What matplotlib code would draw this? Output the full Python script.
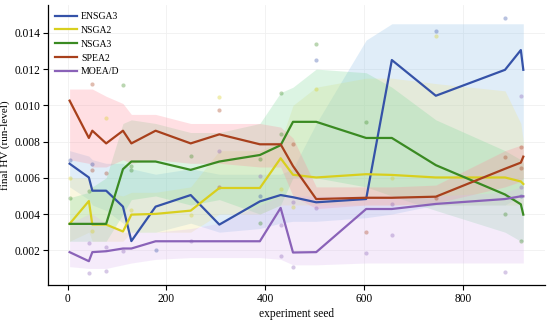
import numpy as np
import matplotlib
matplotlib.use("Agg")
import matplotlib.pyplot as plt

plt.rcParams['font.family'] = ['Liberation Serif', 'DejaVu Serif']

# experiment seeds (x positions shared by every algorithm)
seeds = [4, 43, 50, 78, 112, 129, 178, 249, 307, 389, 431, 456, 503, 604, 656, 745, 885, 917, 922]

# central line per algorithm
ensga3 = [0.00678, 0.00602, 0.00529, 0.00529, 0.00441, 0.00251, 0.00441, 0.00505, 0.00342, 0.00470,
          0.00505, 0.00493, 0.00465, 0.00483, 0.01250, 0.01053, 0.01196, 0.01305, 0.01196]
nsga2 = [0.00346, 0.00472, 0.00342, 0.00342, 0.00304, 0.00397, 0.00401, 0.00419, 0.00544, 0.00544,
         0.00708, 0.00617, 0.00602, 0.00620, 0.00616, 0.00602, 0.00602, 0.00580, 0.00566]
nsga3 = [0.00346, 0.00346, 0.00346, 0.00346, 0.00648, 0.00690, 0.00690, 0.00644, 0.00690, 0.00726,
         0.00780, 0.00909, 0.00909, 0.00820, 0.00820, 0.00670, 0.00508, 0.00454, 0.00397]
spea2 = [0.01026, 0.00820, 0.00860, 0.00790, 0.00860, 0.00790, 0.00860, 0.00790, 0.00840, 0.00785,
         0.00785, 0.00665, 0.00483, 0.00490, 0.00490, 0.00496, 0.00650, 0.00684, 0.00717]
moead = [0.00190, 0.00140, 0.00190, 0.00195, 0.00210, 0.00210, 0.00250, 0.00250, 0.00250, 0.00250,
         0.00434, 0.00188, 0.00190, 0.00428, 0.00428, 0.00456, 0.00483, 0.00498, 0.00498]

# shaded band (lower / upper) per algorithm
ensga3_lo = [0.0055, 0.0048, 0.0045, 0.0042, 0.0035, 0.0030, 0.0030, 0.0035, 0.0030, 0.0032,
             0.0035, 0.0036, 0.0036, 0.0038, 0.0040, 0.0045, 0.0045, 0.0050, 0.0050]
ensga3_hi = [0.0075, 0.0072, 0.0070, 0.0068, 0.0068, 0.0065, 0.0062, 0.0065, 0.0062, 0.0062,
             0.0062, 0.0065, 0.0090, 0.0136, 0.0145, 0.0145, 0.0145, 0.0145, 0.0145]
nsga2_lo = [0.0025, 0.0030, 0.0025, 0.0025, 0.0025, 0.0030, 0.0030, 0.0030, 0.0040, 0.0040,
            0.0045, 0.0045, 0.0045, 0.0045, 0.0045, 0.0045, 0.0045, 0.0045, 0.0045]
nsga2_hi = [0.0060, 0.0060, 0.0055, 0.0052, 0.0050, 0.0052, 0.0052, 0.0055, 0.0075, 0.0075,
            0.0080, 0.0100, 0.0110, 0.0115, 0.0115, 0.0112, 0.0108, 0.0090, 0.0080]
nsga3_lo = [0.0025, 0.0025, 0.0025, 0.0025, 0.0040, 0.0048, 0.0050, 0.0045, 0.0048, 0.0040,
            0.0045, 0.0060, 0.0060, 0.0055, 0.0050, 0.0042, 0.0030, 0.0025, 0.0025]
nsga3_hi = [0.0049, 0.0052, 0.0055, 0.0060, 0.0090, 0.0092, 0.0090, 0.0085, 0.0085, 0.0090,
            0.0107, 0.0110, 0.0120, 0.0118, 0.0110, 0.0092, 0.0075, 0.0070, 0.0068]
spea2_lo = [0.0070, 0.0068, 0.0066, 0.0066, 0.0070, 0.0068, 0.0070, 0.0068, 0.0068, 0.0066,
            0.0066, 0.0050, 0.0043, 0.0045, 0.0045, 0.0046, 0.0055, 0.0058, 0.0060]
spea2_hi = [0.0109, 0.0109, 0.0109, 0.0105, 0.0101, 0.0095, 0.0095, 0.0090, 0.0090, 0.0090,
            0.0088, 0.0082, 0.0055, 0.0055, 0.0055, 0.0056, 0.0075, 0.0078, 0.0078]
moead_lo = [0.0011, 0.0010, 0.0010, 0.0010, 0.0012, 0.0013, 0.0015, 0.0016, 0.0016, 0.0016,
            0.0015, 0.0012, 0.0012, 0.0013, 0.0013, 0.0013, 0.0013, 0.0013, 0.0013]
moead_hi = [0.0035, 0.0040, 0.0040, 0.0035, 0.0030, 0.0030, 0.0030, 0.0032, 0.0035, 0.0045,
            0.0050, 0.0050, 0.0050, 0.0050, 0.0050, 0.0050, 0.0052, 0.0055, 0.0055]

# individual run dots (seed, value)
ensga3_dots = [(4, 0.0070), (50, 0.00675), (178, 0.0020), (389, 0.0050), (503, 0.0125),
               (745, 0.0141), (885, 0.0148), (917, 0.00498)]
nsga2_dots = [(4, 0.0060), (50, 0.00304), (78, 0.0093), (129, 0.0042), (249, 0.00396), (307, 0.01045),
              (431, 0.0054), (456, 0.0044), (503, 0.0109), (656, 0.0060), (745, 0.0138)]
nsga3_dots = [(4, 0.0049), (43, 0.00529), (112, 0.0111), (129, 0.00666), (129, 0.00642), (249, 0.0072),
              (389, 0.00706), (389, 0.0035), (431, 0.01066), (431, 0.0084), (503, 0.0134),
              (604, 0.0091), (885, 0.0040), (917, 0.0025)]
spea2_dots = [(50, 0.0112), (50, 0.00642), (78, 0.00624), (307, 0.00974), (307, 0.0055),
              (456, 0.00785), (604, 0.0030), (745, 0.00486), (885, 0.00716), (917, 0.0077), (917, 0.00652)]
moead_dots = [(43, 0.00242), (43, 0.00076), (78, 0.0022), (78, 0.00085), (112, 0.00195), (249, 0.00249),
              (307, 0.00746), (389, 0.0061), (431, 0.0034), (431, 0.00167), (456, 0.00465), (456, 0.00109),
              (503, 0.00432), (604, 0.00187), (656, 0.00456), (656, 0.00282), (885, 0.00081),
              (917, 0.0105), (917, 0.0055)]

names = ["ENSGA3", "NSGA2", "NSGA3", "SPEA2", "MOEA/D"]
lines = [ensga3, nsga2, nsga3, spea2, moead]
lows = [ensga3_lo, nsga2_lo, nsga3_lo, spea2_lo, moead_lo]
highs = [ensga3_hi, nsga2_hi, nsga3_hi, spea2_hi, moead_hi]
dots = [ensga3_dots, nsga2_dots, nsga3_dots, spea2_dots, moead_dots]
line_colors = ["#3552a8", "#d8cf1e", "#3a8a22", "#a8401c", "#8a62b8"]
fill_colors = ["#8ec0e8", "#efe38a", "#7ed99a", "#ff8c9a", "#dcb8f0"]

fig = plt.figure(figsize=(5.5, 3.2), dpi=100)
ax = fig.add_axes([0.087, 0.109, 0.904, 0.875])

ax.grid(True, color="#f0f0f0", linewidth=0.6)
ax.set_axisbelow(True)

for i in range(5):
    ax.fill_between(seeds, lows[i], highs[i], color=fill_colors[i], alpha=0.27, linewidth=0, zorder=1)

for i in range(5):
    d = np.array(dots[i])
    ax.scatter(d[:, 0], d[:, 1], s=9, color=line_colors[i], alpha=0.35, linewidths=0, zorder=2)

for i in range(5):
    ax.plot(seeds, lines[i], color=line_colors[i], lw=1.6, label=names[i], zorder=3)

ax.set_xlim(-40, 966)
ax.set_ylim(0.00008, 0.01553)
ax.set_xticks([0, 200, 400, 600, 800])
ax.set_yticks([0.002, 0.004, 0.006, 0.008, 0.010, 0.012, 0.014])
ax.set_yticklabels(["0.002", "0.004", "0.006", "0.008", "0.010", "0.012", "0.014"])
ax.tick_params(labelsize=8.3, length=3.5, width=0.8, direction="out", pad=2)
for s in ["top", "right"]:
    ax.spines[s].set_visible(False)
for s in ["left", "bottom"]:
    ax.spines[s].set_linewidth(0.9)

ax.set_xlabel("experiment seed", fontsize=8.3, labelpad=2)
ax.set_ylabel("final HV (run-level)", fontsize=8)
ax.yaxis.set_label_coords(-0.077, 0.5)

ax.legend(loc="upper left", frameon=False, fontsize=7, handlelength=2.3,
          bbox_to_anchor=(0.0, 1.0), borderaxespad=0.3, labelspacing=0.5, handletextpad=0.4)

fig.savefig("out.png", dpi=100)
